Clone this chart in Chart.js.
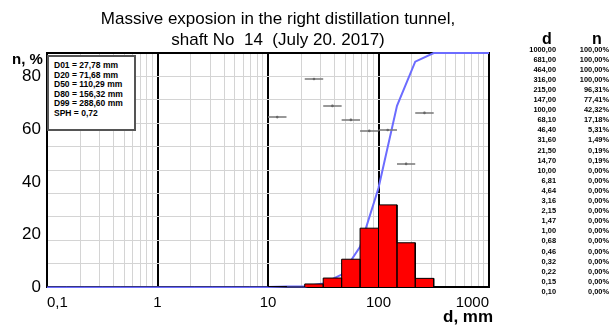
<!DOCTYPE html>
<html>
<head>
<meta charset="utf-8">
<script src="https://cdn.jsdelivr.net/npm/chart.js@4"></script>
<style>
  body { margin: 0; background: #fff; }
  #wrap { position: relative; width: 614px; height: 327px; font-family: "Liberation Sans", Arial, sans-serif; }
  #title { position: absolute; left: 0; top: 8px; width: 556px; text-align: center; font-size: 17px; line-height: 21px; color: #000; }
  #info { position: absolute; left: 47px; top: 55px; width: 80px; height: 68px; border: 2px solid #555; background: #fff;
          font-weight: bold; font-size: 8.5px; line-height: 9.5px; padding: 4px 0 0 5px; box-sizing: content-box; }
  #info div { white-space: nowrap; }
  .lbl { position: absolute; font-weight: bold; white-space: nowrap; }
  #table { position: absolute; left: 500px; top: 30px; width: 114px; }
  .hdr { position: absolute; font-weight: bold; font-size: 16px; top: 0; }
  .row { position: absolute; font-weight: bold; font-size: 7.4px; text-align: right; white-space: nowrap; }
</style>
</head>
<body>
<div id="wrap">
  <canvas id="psdChart"></canvas>
  <div id="title">Massive exposion in the right distillation tunnel,<br>shaft No&nbsp; 14&nbsp; (July 20. 2017)</div>
  <div id="info"></div>
  <div class="lbl" style="left:12px; top:50px; font-size:15px;">n, %</div>
  <div class="lbl" style="left:443px; top:307px; font-size:17px;">d, mm</div>
  <div id="table"></div>
</div>
<script>
// sieve sizes (mm) and cumulative passing (%), as in the table
const dValues = [1000, 681, 464, 316, 215, 147, 100, 68.1, 46.4, 31.6, 21.5, 14.7, 10,
                 6.81, 4.64, 3.16, 2.15, 1.47, 1.00, 0.68, 0.46, 0.32, 0.22, 0.15, 0.10];
const nValues = [100, 100, 100, 100, 96.31, 77.41, 42.32, 17.18, 5.31, 1.49, 0.19, 0.19, 0,
                 0, 0, 0, 0, 0, 0, 0, 0, 0, 0, 0, 0];

// histogram bins (lower, upper edge) and fraction in bin (%)
const binLow  = [0.10, 0.15, 0.22, 0.32, 0.46, 0.68, 1.00, 1.47, 2.15, 3.16, 4.64, 6.81,
                 10, 14.7, 21.5, 31.6, 46.4, 68.1, 100, 147, 215, 316, 464, 681];
const binHigh = [0.15, 0.22, 0.32, 0.46, 0.68, 1.00, 1.47, 2.15, 3.16, 4.64, 6.81, 10,
                 14.7, 21.5, 31.6, 46.4, 68.1, 100, 147, 215, 316, 464, 681, 1000];
const binPercent = [0, 0, 0, 0, 0, 0, 0, 0, 0, 0, 0, 0,
                    0.19, 0, 1.30, 3.82, 11.87, 25.14, 35.09, 18.90, 3.69, 0, 0, 0];

// short grey markers over some bins
const markLow   = [10, 21.5, 31.6, 46.4, 68.1, 100, 147, 215];
const markHigh  = [14.7, 31.6, 46.4, 68.1, 100, 147, 215, 316];
const markValue = [72.6, 88.9, 77.4, 71.4, 66.7, 67.1, 52.6, 74.4];

const xMajor = [0.1, 1, 10, 100, 1000];
const xMajorLabels = ["0,1", "1", "10", "100", "1000"];
const yLabels = [0, 20, 40, 60, 80];

const infoLines = ["D01 = 27,78 mm", "D20 = 71,68 mm", "D50 = 110,29 mm",
                   "D80 = 156,32 mm", "D99 = 288,60 mm", "SPH = 0,72"];

// info box + table
document.getElementById("info").innerHTML = infoLines.map(s => "<div>" + s + "</div>").join("");

let tbl = '<div class="hdr" style="left:42px;">d</div><div class="hdr" style="left:92px;">n</div>';
for (let i = 0; i < dValues.length; i++) {
  let top = 14.5 + i * 10.1;
  let d = dValues[i].toFixed(2).replace(".", ",");
  let n = nValues[i].toFixed(2).replace(".", ",") + "%";
  tbl += '<div class="row" style="top:' + top + 'px; left:0; width:56px;">' + d + '</div>';
  tbl += '<div class="row" style="top:' + top + 'px; left:60px; width:49px;">' + n + '</div>';
}
document.getElementById("table").innerHTML = tbl;

// grid positions on the log axis
let xTicks = [];
for (let i = 0; i < xMajor.length - 1; i++) {
  for (let k = 1; k < 10; k++) xTicks.push(xMajor[i] * k);
}
xTicks.push(1000);

function isDecade(v) {
  let l = Math.log10(v);
  return Math.abs(l - Math.round(l)) < 1e-6;
}

// curve points
let curve = [];
for (let i = 0; i < dValues.length; i++) curve.push({ x: dValues[i], y: nValues[i] });

// histogram outline
let hist = [{ x: binLow[0], y: 0 }];
for (let i = 0; i < binLow.length; i++) {
  hist.push({ x: binLow[i], y: binPercent[i] });
  hist.push({ x: binHigh[i], y: binPercent[i] });
  hist.push({ x: binHigh[i], y: 0 });
}

// marker segments with a dot in the middle
let marks = [];
for (let i = 0; i < markLow.length; i++) {
  marks.push({ x: markLow[i], y: markValue[i] });
  marks.push({ x: Math.sqrt(markLow[i] * markHigh[i]), y: markValue[i], dot: true });
  marks.push({ x: markHigh[i], y: markValue[i] });
  marks.push({ x: markHigh[i], y: null });
}

const font = "'Liberation Sans', Arial, sans-serif";
let ctx = document.getElementById("psdChart").getContext("2d");

new Chart(ctx, {
  type: "line",
  data: {
    datasets: [
      {
        label: "hist",
        data: hist,
        yAxisID: "yGrid",
        borderColor: "#000",
        borderWidth: 1,
        backgroundColor: "#ff0000",
        fill: "origin",
        pointRadius: 0,
        tension: 0,
      },
      {
        label: "marks",
        data: marks,
        yAxisID: "yGrid",
        borderColor: "#777",
        borderWidth: 1.5,
        spanGaps: false,
        pointRadius: (c) => (c.raw && c.raw.dot ? 1.3 : 0),
        pointBackgroundColor: "#666",
        pointBorderWidth: 0,
        fill: false,
      },
      {
        label: "curve",
        data: curve,
        yAxisID: "yGrid",
        borderColor: "#6c6cff",
        borderWidth: 2,
        pointRadius: 0,
        tension: 0,
        fill: false,
        clip: 4,
      },
    ],
  },
  options: {
    responsive: true,
    maintainAspectRatio: false,
    animation: false,
    layout: { padding: { top: 53, right: 125, left: 0, bottom: 0 } },
    plugins: {
      legend: { display: false },
      tooltip: { enabled: false },
    },
    scales: {
      x: {
        type: "logarithmic",
        min: 0.1,
        max: 1000,
        afterBuildTicks: (scale) => {
          scale.ticks = xTicks.map((v) => ({ value: v }));
        },
        afterFit: (scale) => { scale.height = 40; },
        ticks: {
          autoSkip: false,
          maxRotation: 0,
          align: "inner",
          padding: 7,
          color: "#000",
          font: { family: font, size: 15 },
          callback: (v) => {
            let idx = xMajor.findIndex((m) => Math.abs(m - v) / m < 1e-6);
            return idx >= 0 ? xMajorLabels[idx] : "";
          },
        },
        grid: {
          drawTicks: false,
          color: (c) => (isDecade(c.tick.value) ? "#000" : "#d4d4d4"),
          lineWidth: (c) => (isDecade(c.tick.value) ? 2 : 1),
        },
        border: { color: "#000", width: 2 },
      },
      y: {
        position: "left",
        min: 0,
        max: 89,
        afterBuildTicks: (scale) => {
          scale.ticks = yLabels.map((v) => ({ value: v }));
        },
        afterFit: (scale) => { scale.width = 47; },
        ticks: {
          padding: 6,
          color: "#000",
          font: { family: font, size: 17 },
        },
        grid: { display: false, drawTicks: false },
        border: { color: "#000", width: 2 },
      },
      yGrid: {
        position: "right",
        min: 0,
        max: 100,
        afterFit: (scale) => { scale.width = 0; },
        ticks: { display: false, stepSize: 10 },
        grid: {
          drawTicks: false,
          color: (c) => (c.tick.value === 100 ? "#000" : "#d4d4d4"),
          lineWidth: (c) => (c.tick.value === 100 ? 2 : 1),
        },
        border: { color: "#000", width: 2 },
      },
    },
  },
});
</script>
</body>
</html>
